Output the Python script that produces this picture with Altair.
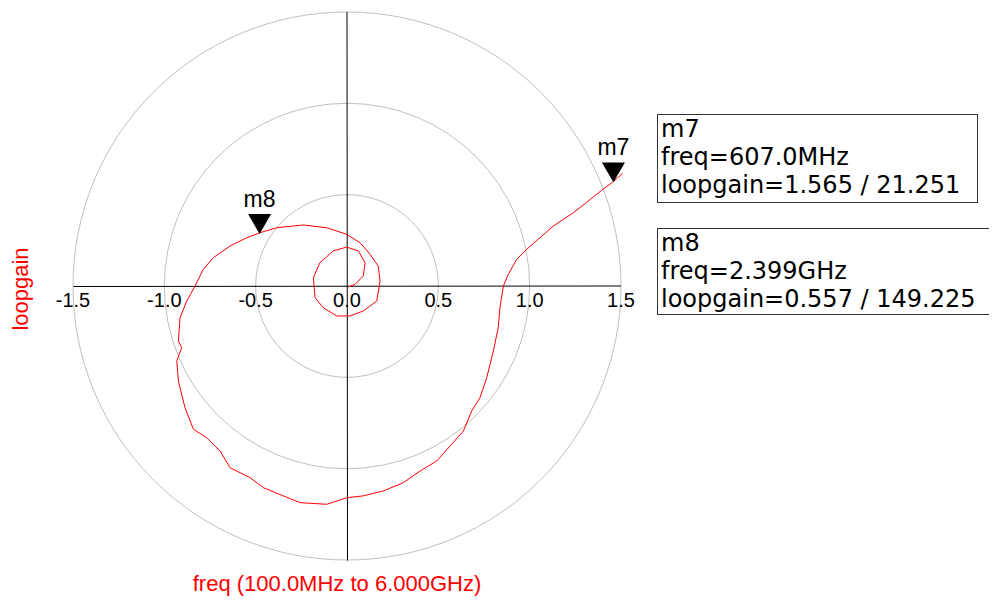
import altair as alt
import pandas as pd

# loopgain trace (real / imaginary parts), 100 MHz (outer end) to 6 GHz (centre)
re_vals = [1.509, 1.454, 1.394, 1.312, 1.239, 1.129, 1.056, 0.984, 0.929, 0.883,
           0.856, 0.837, 0.828, 0.801, 0.765, 0.728, 0.683, 0.637, 0.573, 0.491,
           0.400, 0.308, 0.199, 0.089, -0.002, -0.111, -0.257, -0.349, -0.458, -0.531,
           -0.640, -0.695, -0.768, -0.841, -0.887, -0.923, -0.932, -0.905, -0.923, -0.914,
           -0.877, -0.832, -0.787, -0.732, -0.640, -0.549, -0.476, -0.385, -0.239, -0.111,
           -0.002, 0.071, 0.126, 0.171, 0.181, 0.163, 0.089, 0.016, -0.056, -0.130,
           -0.175, -0.184, -0.148, -0.075, -0.002, 0.062, 0.099, 0.089, 0.044, 0.007]
im_vals = [0.617, 0.568, 0.524, 0.458, 0.401, 0.328, 0.264, 0.201, 0.146, 0.064,
           0.000, -0.119, -0.228, -0.356, -0.502, -0.612, -0.684, -0.794, -0.866, -0.958,
           -1.013, -1.077, -1.122, -1.149, -1.159, -1.195, -1.186, -1.149, -1.104, -1.049,
           -0.995, -0.903, -0.831, -0.784, -0.666, -0.520, -0.411, -0.338, -0.301, -0.174,
           -0.082, 0.000, 0.091, 0.155, 0.219, 0.264, 0.292, 0.319, 0.334, 0.319,
           0.283, 0.237, 0.174, 0.109, 0.027, -0.082, -0.137, -0.164, -0.164, -0.119,
           -0.064, 0.045, 0.128, 0.192, 0.213, 0.192, 0.128, 0.055, 0.009, -0.005]

ring_radii = [0.5, 1.0, 1.5]
tick_values = [-1.5, -1.0, -0.5, 0.0, 0.5, 1.0, 1.5]
tick_labels = ["-1.5", "-1.0", "-0.5", "0.0", "0.5", "1.0", "1.5"]

marker_names = ["m7", "m8"]
marker_freqs = ["607.0MHz", "2.399GHz"]
marker_mags = [1.565, 0.557]
marker_phases = [21.251, 149.225]

W = H = 548
R = 1.5
xs = alt.Scale(domain=[-R, R], nice=False, zero=False)
ys = alt.Scale(domain=[-R, R], nice=False, zero=False)
RED = "#ff0000"

curve = pd.DataFrame({"i": list(range(len(re_vals))), "re": re_vals, "im": im_vals})

# grid rings: circle symbols centred on the origin, diameter = 2 * radius on the x scale
ring_df = pd.DataFrame({"r": ring_radii, "cx": [0.0] * len(ring_radii), "cy": [0.0] * len(ring_radii)})
rings = alt.Chart(ring_df).mark_point(
    shape="circle", filled=False, color="#c0c0c0", strokeWidth=1, opacity=1
).encode(
    x=alt.X("cx:Q", scale=xs, axis=None),
    y=alt.Y("cy:Q", scale=ys, axis=None),
    size=alt.Size("r:Q", scale=alt.Scale(type="pow", exponent=2, domain=[0, R], range=[0, W * W]),
                  legend=None),
)

axes_df = pd.DataFrame({"x1": [-R, 0.0], "x2": [R, 0.0], "y1": [0.0, -R], "y2": [0.0, R]})
axes = alt.Chart(axes_df).mark_rule(color="black", strokeWidth=1, xOffset=0.5, yOffset=0.5).encode(
    x=alt.X("x1:Q", scale=xs, axis=None), x2="x2:Q",
    y=alt.Y("y1:Q", scale=ys, axis=None), y2="y2:Q")

tick_df = pd.DataFrame({"t": tick_values, "lab": tick_labels, "z": [0.0] * len(tick_values)})
ticks = alt.Chart(tick_df).mark_text(
    dy=21, baseline="alphabetic", align="center", fontSize=20, font="Liberation Sans", color="black"
).encode(x=alt.X("t:Q", scale=xs, axis=None), y=alt.Y("z:Q", scale=ys, axis=None), text="lab:N")

line = alt.Chart(curve).mark_line(color=RED, strokeWidth=1).encode(
    x=alt.X("re:Q", scale=xs, axis=None),
    y=alt.Y("im:Q", scale=ys, axis=None),
    order="i:Q")

mk = pd.DataFrame({"name": marker_names, "mag": marker_mags, "ph": marker_phases})
base_mk = alt.Chart(mk).transform_calculate(
    mx="datum.mag*cos(datum.ph*PI/180)", my="datum.mag*sin(datum.ph*PI/180)")
tri = base_mk.mark_point(shape="triangle-down", filled=True, size=529, color="black",
                         opacity=1, yOffset=-10).encode(
    x=alt.X("mx:Q", scale=xs, axis=None), y=alt.Y("my:Q", scale=ys, axis=None))
mlab = base_mk.mark_text(dy=-27, baseline="alphabetic", align="center", fontSize=23,
                         font="Liberation Sans", color="black").encode(
    x=alt.X("mx:Q", scale=xs, axis=None), y=alt.Y("my:Q", scale=ys, axis=None), text="name:N")

one = pd.DataFrame({"a": [0]})
box_geom = [(584, 904, 102, 190), (584, 923, 216, 302)]
box_layers = []
for k in range(len(marker_names)):
    x0, x1, y0, y1 = box_geom[k]
    lines = [marker_names[k], "freq=" + marker_freqs[k],
             "loopgain=%.3f / %.3f" % (marker_mags[k], marker_phases[k])]
    edge = dict(color="#333333", strokeWidth=1)
    box_layers.append(alt.Chart(one).mark_rule(**edge).encode(
        x=alt.value(x0), x2=alt.value(x1), y=alt.value(y0 + 0.5)))
    box_layers.append(alt.Chart(one).mark_rule(**edge).encode(
        x=alt.value(x0), x2=alt.value(x1), y=alt.value(y1 + 0.5)))
    box_layers.append(alt.Chart(one).mark_rule(**edge).encode(
        x=alt.value(x0 + 0.5), y=alt.value(y0), y2=alt.value(y1)))
    box_layers.append(alt.Chart(one).mark_rule(**edge).encode(
        x=alt.value(x1 + 0.5), y=alt.value(y0), y2=alt.value(y1 + 1)))
    for j, txt in enumerate(lines):
        box_layers.append(alt.Chart(one).mark_text(
            align="left", baseline="alphabetic", fontSize=24, font="DejaVu Sans",
            color="black").encode(
            x=alt.value(x0 + 4), y=alt.value(y0 + 22.5 + 28.3 * j), text=alt.value(txt)))

ytitle = alt.Chart(one).mark_text(angle=270, fontSize=22, font="Liberation Sans", color=RED,
                                  baseline="middle", align="center").encode(
    x=alt.value(-52), y=alt.value(277), text=alt.value("loopgain"))
xtitle = alt.Chart(one).mark_text(fontSize=22, font="Liberation Sans", color=RED,
                                  baseline="alphabetic", align="center").encode(
    x=alt.value(264), y=alt.value(579), text=alt.value("freq (100.0MHz to 6.000GHz)"))

chart = alt.layer(rings, axes, ticks, line, tri, mlab, *box_layers, ytitle, xtitle).properties(
    width=W, height=H, autosize="none",
    padding={"left": 65, "top": 4, "right": 368, "bottom": 36},
    background="white",
).configure_view(stroke=None)

chart.save("out.html", embed_options={"renderer": "svg", "actions": False})
